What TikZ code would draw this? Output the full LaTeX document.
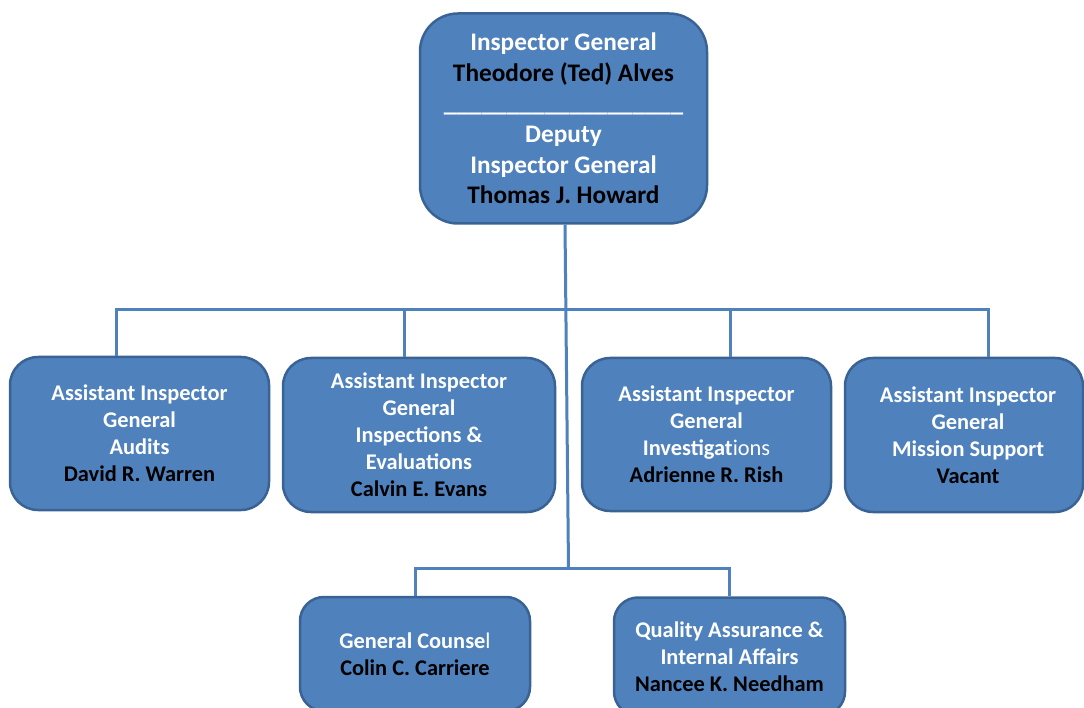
\documentclass[tikz,border=0pt]{standalone}
\usepackage{fontspec}
\setmainfont{Carlito}
\definecolor{boxfill}{HTML}{4F81BD}
\definecolor{boxline}{HTML}{3A6395}
\definecolor{connc}{HTML}{4F81BD}
\begin{document}
\begin{tikzpicture}[x=1pt,y=-1pt,
  box/.style={draw=boxline, fill=boxfill, line width=2.5pt, rounded corners=28pt,
    align=center, inner sep=0pt, text=white, font=\bfseries\fontsize{22.4}{27}\selectfont},
  boxtext/.style={align=center, inner sep=0pt, text=white, font=\bfseries\fontsize{22.4}{27}\selectfont},
  connector/.style={draw=connc, line width=3pt}]
\useasboundingbox (0,0) rectangle (1084,708);
\clip (0,0) rectangle (1084,708);
\fill[white] (0,0) rectangle (1084,708);

\node[box, minimum width=287, minimum height=210, rounded corners=38pt,
  font=\bfseries\fontsize{25.3}{30.6}\selectfont] (ig) at (563.5,118.5)
  {Inspector General\\\textcolor{black}{Theodore (Ted) Alves}\\
   \_\_\_\_\_\_\_\_\_\_\_\_\_\_\_\_\_\_\_\\Deputy\\Inspector General\\
   \textcolor{black}{Thomas J. Howard}};

\node[box, minimum width=259, minimum height=153] (aud) at (139.5,433.5)
  {Assistant Inspector\\General\\Audits\\\textcolor{black}{David R. Warren}};
\node[box, minimum width=272, minimum height=154] (ins) at (419,435)
  {Assistant Inspector\\General\\Inspections \&\\Evaluations\\\textcolor{black}{Calvin E. Evans}};
\node[box, minimum width=249, minimum height=153] (inv) at (706.5,434.5)
  {Assistant Inspector\\General\\Investigat{\mdseries ions}\\\textcolor{black}{Adrienne R. Rish}};
\node[box, minimum width=238, minimum height=154] (ms) at (964,435) {};
\node[boxtext] (mst) at (968,435.5)
  {Assistant Inspector\\General\\Mission Support\\\textcolor{black}{Vacant}};

\node[box, minimum width=230, minimum height=114, rounded corners=24pt] (gc) at (415,654)
  {General Counse{\mdseries l}\\\textcolor{black}{Colin C. Carriere}};
\node[box, minimum width=231, minimum height=118, rounded corners=24pt] (qa) at (729.5,656.5)
  {Quality Assurance \&\\Internal Affairs\\\textcolor{black}{Nancee K. Needham}};

\coordinate (bar) at (566,310);
\coordinate (jb) at (568.5,568);

\draw[connector] ([xshift=1.5pt]ig.south) -- (jb);
\draw[connector] ([xshift=-23.5pt]aud.north) |- (bar) -| ([xshift=24pt]ms.north);
\draw[connector] ([xshift=-15pt]ins.north) -- ([xshift=-15pt]ins.north |- bar);
\draw[connector] ([xshift=23.5pt]inv.north) -- ([xshift=23.5pt]inv.north |- bar);
\draw[connector] (gc.north) |- (jb) -| (qa.north);
\end{tikzpicture}
\end{document}
